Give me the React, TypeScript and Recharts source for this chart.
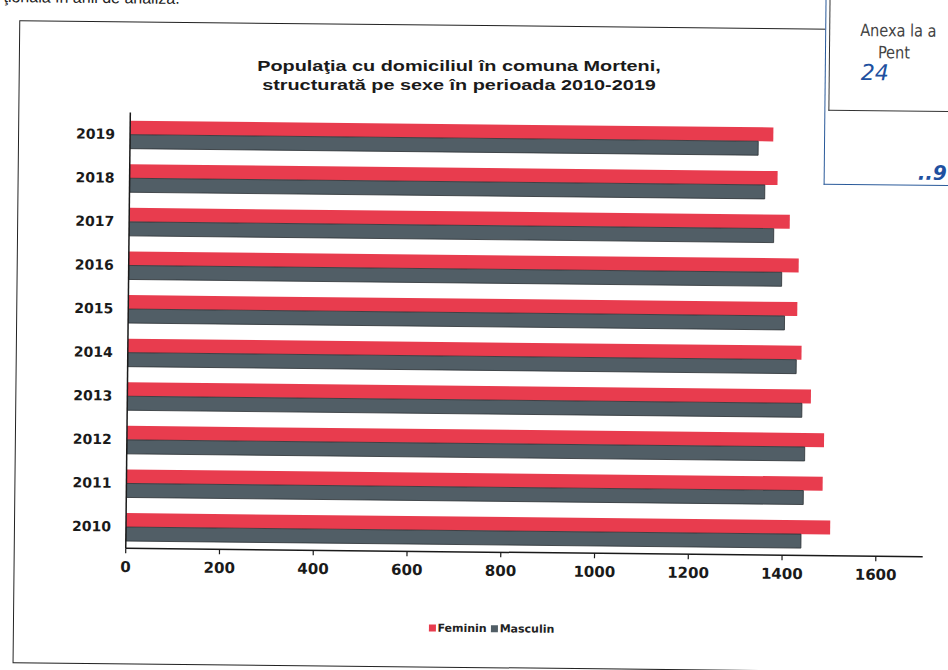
import React from 'react';
import { BarChart, Bar, XAxis, YAxis, Legend } from 'recharts';

const years = ['2010', '2011', '2012', '2013', '2014', '2015', '2016', '2017', '2018', '2019'];
const feminin = [1502, 1485, 1487, 1458, 1437, 1427, 1429, 1409, 1382, 1372];
const masculin = [1440, 1444, 1446, 1439, 1426, 1400, 1393, 1375, 1355, 1340];
const xTicks = [0, 200, 400, 600, 800, 1000, 1200, 1400, 1600];
const titleLines = ['Populaţia cu domiciliul în comuna Morteni,', 'structurată pe sexe în perioada 2010-2019'];

const data = years.map((y, i) => ({ year: y, Feminin: feminin[i], Masculin: masculin[i] }));

const RED = '#E83C4E';
const GRAY = '#515E66';

const renderLegend = (props: any) => (
  <div
    style={{
      display: 'flex',
      justifyContent: 'center',
      alignItems: 'center',
      fontFamily: '"DejaVu Sans", sans-serif',
      fontWeight: 700,
      fontSize: 11,
      color: '#222',
    }}
  >
    {(props.payload || []).map((p: any) => (
      <span key={p.value} style={{ display: 'inline-flex', alignItems: 'center', marginRight: 4 }}>
        <span style={{ width: 7, height: 7, background: p.color, marginRight: 2, display: 'inline-block' }} />
        {p.value}
      </span>
    ))}
  </div>
);

export default function App() {
  return (
    <div
      style={{
        position: 'fixed',
        left: 0,
        top: 0,
        width: 948,
        height: 670,
        overflow: 'hidden',
        background: '#fff',
      }}
    >
      <div
        style={{
          position: 'absolute',
          left: 0,
          top: 0,
          width: 948,
          height: 670,
          transform: 'rotate(0.6deg)',
          transformOrigin: '474px 335px',
        }}
      >
        {/* cut-off text line at the top */}
        <div
          style={{
            position: 'absolute',
            left: 0,
            top: -7,
            fontFamily: '"Liberation Sans", Arial, sans-serif',
            fontSize: 16,
            color: '#222',
            whiteSpace: 'nowrap',
          }}
        >
          ţionala în anii de analiză.
        </div>

        {/* chart border */}
        <div
          style={{
            position: 'absolute',
            left: 16,
            top: 25,
            width: 1000,
            height: 641,
            border: '1.5px solid #222',
          }}
        />

        <div style={{ position: 'absolute', left: 0, top: 0 }}>
          <BarChart
            width={948}
            height={670}
            data={data}
            layout="vertical"
            margin={{ top: 116, left: 68, right: 23, bottom: 88 }}
            barCategoryGap="19%"
            barGap={0}
          >
            <XAxis
              type="number"
              domain={[0, 1700]}
              ticks={xTicks}
              allowDataOverflow
              axisLine={{ stroke: '#1a1a1a', strokeWidth: 1.5 }}
              tickLine={{ stroke: '#1a1a1a', strokeWidth: 1.2 }}
              tickSize={5}
              tickMargin={8}
              height={30}
              tick={{
                fill: '#1a1a1a',
                fontSize: 15,
                fontWeight: 700,
                fontFamily: '"DejaVu Sans", sans-serif',
              }}
            />
            <YAxis
              type="category"
              dataKey="year"
              reversed
              width={60}
              axisLine={{ stroke: '#1a1a1a', strokeWidth: 1.5 }}
              tickLine={false}
              tickSize={0}
              tickMargin={15}
              tick={{
                fill: '#1a1a1a',
                fontSize: 14,
                fontWeight: 700,
                fontFamily: '"DejaVu Sans", sans-serif',
              }}
            />
            <Legend
              layout="horizontal"
              verticalAlign="middle"
              align="center"
              wrapperStyle={{ top: 622 }}
              content={renderLegend}
            />
            <Bar dataKey="Feminin" fill={RED} isAnimationActive={false} />
            <Bar dataKey="Masculin" fill={GRAY} stroke="#2a2f33" strokeWidth={0.8} isAnimationActive={false} />
          </BarChart>
        </div>

        {/* stamp in the top-right corner */}
        <div
          style={{
            position: 'absolute',
            left: 822,
            top: -6,
            width: 200,
            height: 186,
            borderLeft: '1.5px solid #2a5a9a',
            borderBottom: '1.5px solid #2a5a9a',
            background: '#fff',
          }}
        />
        <div
          style={{
            position: 'absolute',
            left: 826,
            top: -6,
            width: 200,
            height: 112,
            borderLeft: '1px solid #333',
            borderBottom: '1px solid #333',
          }}
        />
        <div
          style={{
            position: 'absolute',
            left: 857,
            top: 16,
            fontFamily: '"DejaVu Sans Condensed", "DejaVu Sans", sans-serif',
            fontSize: 17,
            color: '#444',
            whiteSpace: 'nowrap',
            transform: 'scaleX(0.95)',
            transformOrigin: '0 0',
          }}
        >
          Anexa la a
        </div>
        <div
          style={{
            position: 'absolute',
            left: 875,
            top: 38,
            fontFamily: '"DejaVu Sans Condensed", "DejaVu Sans", sans-serif',
            fontSize: 17,
            color: '#444',
            whiteSpace: 'nowrap',
            transform: 'scaleX(0.95)',
            transformOrigin: '0 0',
          }}
        >
          Pent
        </div>
        <div
          style={{
            position: 'absolute',
            left: 858,
            top: 56,
            fontFamily: '"DejaVu Sans", sans-serif',
            fontStyle: 'italic',
            fontSize: 22,
            color: '#2050a0',
            whiteSpace: 'nowrap',
          }}
        >
          24
        </div>
        <div
          style={{
            position: 'absolute',
            left: 916,
            top: 156,
            fontFamily: '"DejaVu Sans", sans-serif',
            fontStyle: 'italic',
            fontWeight: 700,
            fontSize: 20,
            color: '#2050a0',
            whiteSpace: 'nowrap',
          }}
        >
          ..9
        </div>
      </div>

      {/* title (kept unrotated) */}
      <div
        style={{
          position: 'absolute',
          left: 0,
          top: 56,
          width: 918,
          textAlign: 'center',
          fontFamily: '"Liberation Sans", Arial, sans-serif',
          fontWeight: 700,
          fontSize: 15.5,
          lineHeight: '19px',
          color: '#1a1a1a',
          transform: 'scaleX(1.28)',
          transformOrigin: '459px 0px',
        }}
      >
        {titleLines.map((t) => (
          <div key={t} style={{ height: 19 }}>{t}</div>
        ))}
      </div>
    </div>
  );
}
